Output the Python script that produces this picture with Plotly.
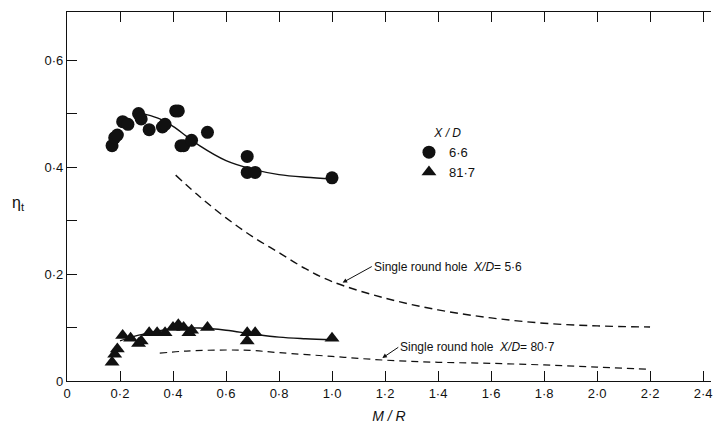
import plotly.graph_objects as go

# Measured effectiveness, X/D = 6.6 (circles)
md_66 = [0.17, 0.18, 0.19, 0.21, 0.23, 0.27, 0.28, 0.31, 0.36, 0.37, 0.41, 0.42,
         0.43, 0.44, 0.47, 0.53, 0.68, 0.68, 0.71, 1.00]
eta_66 = [0.44, 0.455, 0.46, 0.485, 0.48, 0.50, 0.49, 0.47, 0.475, 0.48, 0.505, 0.505,
          0.44, 0.44, 0.45, 0.465, 0.42, 0.39, 0.39, 0.38]

# Measured effectiveness, X/D = 81.7 (triangles)
md_817 = [0.17, 0.18, 0.19, 0.21, 0.24, 0.27, 0.28, 0.31, 0.34, 0.37, 0.40, 0.42,
          0.44, 0.46, 0.47, 0.53, 0.68, 0.71, 0.68, 1.00]
eta_817 = [0.035, 0.05, 0.06, 0.085, 0.08, 0.07, 0.075, 0.09, 0.09, 0.09, 0.10, 0.105,
           0.10, 0.09, 0.095, 0.10, 0.09, 0.09, 0.075, 0.08]

# Faired curves through the measurements
fit_x_66 = [0.25, 0.30, 0.35, 0.40, 0.45, 0.50, 0.60, 0.70, 0.80, 0.90, 1.00]
fit_y_66 = [0.503, 0.498, 0.49, 0.476, 0.458, 0.44, 0.412, 0.396, 0.386, 0.381, 0.378]
fit_x_817 = [0.20, 0.25, 0.30, 0.35, 0.40, 0.50, 0.60, 0.70, 0.80, 0.90, 1.00]
fit_y_817 = [0.075, 0.083, 0.089, 0.094, 0.098, 0.099, 0.095, 0.088, 0.082, 0.079, 0.077]

# Single round hole reference curves
hole_x_56 = [0.41, 0.5, 0.6, 0.7, 0.8, 0.9, 1.0, 1.2, 1.4, 1.6, 1.8, 2.0, 2.2]
hole_y_56 = [0.385, 0.345, 0.305, 0.27, 0.24, 0.21, 0.186, 0.155, 0.133, 0.118, 0.108, 0.103, 0.101]
hole_x_807 = [0.35, 0.45, 0.6, 0.7, 0.8, 1.0, 1.2, 1.4, 1.6, 1.8, 2.0, 2.2]
hole_y_807 = [0.052, 0.056, 0.058, 0.057, 0.053, 0.046, 0.039, 0.035, 0.033, 0.030, 0.026, 0.022]

x_ticks = [0, 0.2, 0.4, 0.6, 0.8, 1.0, 1.2, 1.4, 1.6, 1.8, 2.0, 2.2, 2.4]
x_labels = ["0", "0·2", "0·4", "0·6", "0·8", "1·0", "1·2", "1·4", "1·6", "1·8", "2·0", "2·2", "2·4"]
y_ticks = [0, 0.2, 0.4, 0.6]
y_labels = ["0", "0·2", "0·4", "0·6"]

FONT = "Liberation Sans, Arial, sans-serif"
INK = "#111111"

fig = go.Figure()

fig.add_trace(go.Scatter(x=fit_x_66, y=fit_y_66, mode="lines", line=dict(color=INK, width=1.4, shape="spline"),
                         showlegend=False, hoverinfo="skip"))
fig.add_trace(go.Scatter(x=fit_x_817, y=fit_y_817, mode="lines", line=dict(color=INK, width=1.4, shape="spline"),
                         showlegend=False, hoverinfo="skip"))
fig.add_trace(go.Scatter(x=hole_x_56, y=hole_y_56, mode="lines",
                         line=dict(color=INK, width=1.4, shape="spline", dash="8px,5px"),
                         showlegend=False, hoverinfo="skip"))
fig.add_trace(go.Scatter(x=hole_x_807, y=hole_y_807, mode="lines",
                         line=dict(color=INK, width=1.2, shape="spline", dash="7px,5px"),
                         showlegend=False, hoverinfo="skip"))

fig.add_trace(go.Scatter(x=md_66, y=eta_66, mode="markers", name="6·6",
                         marker=dict(symbol="circle", size=13, color=INK)))
fig.add_trace(go.Scatter(x=md_817, y=eta_817, mode="markers", name="81·7",
                         marker=dict(symbol="triangle-up", size=13, color=INK)))

# Labels for the reference curves; the leader arrow runs from the label to the curve
fig.add_annotation(x=1.04, y=0.184, ax=1.15, ay=0.214, axref="x", ayref="y",
                   text="Single round hole  <i>X/D</i>= 5·6", xanchor="left", yanchor="middle",
                   showarrow=True, arrowhead=2, arrowsize=0.9, arrowwidth=1, arrowcolor=INK,
                   font=dict(family=FONT, size=12, color=INK))
fig.add_annotation(x=1.19, y=0.043, ax=1.25, ay=0.063, axref="x", ayref="y",
                   text="Single round hole  <i>X/D</i>= 80·7", xanchor="left", yanchor="middle",
                   showarrow=True, arrowhead=2, arrowsize=0.9, arrowwidth=1, arrowcolor=INK,
                   font=dict(family=FONT, size=12, color=INK))

# Upright η_t label beside the vertical axis
fig.add_annotation(x=-0.076, y=0.482, xref="paper", yref="paper", text="η<sub>t</sub>", showarrow=False,
                   xanchor="center", yanchor="middle", font=dict(family=FONT, size=16, color=INK))

fig.update_layout(
    width=716, height=430,
    margin=dict(l=67, r=5, t=12, b=49),
    paper_bgcolor="white", plot_bgcolor="white",
    font=dict(family=FONT, size=13, color=INK),
    legend=dict(x=0.531, y=0.703, xanchor="left", yanchor="top",
                title=dict(text="       <i>X / D</i>", font=dict(size=12)),
                font=dict(size=13), bgcolor="rgba(0,0,0,0)", tracegroupgap=0),
    xaxis=dict(range=[0, 2.43], tickvals=x_ticks, ticktext=x_labels, ticks="inside", ticklen=10,
               tickcolor=INK, showline=True, linecolor=INK, linewidth=1.2, mirror="ticks",
               showgrid=False, zeroline=False, tickfont=dict(size=13),
               title=dict(text="<i>M / R</i>", font=dict(size=14), standoff=11)),
    yaxis=dict(range=[0, 0.69], tickvals=y_ticks, ticktext=y_labels, ticks="inside", ticklen=10,
               tickcolor=INK, showline=True, linecolor=INK, linewidth=1.2, mirror=False,
               showgrid=False, zeroline=False, tickfont=dict(size=13),
               minor=dict(tick0=0, dtick=0.1, ticks="inside", ticklen=10, tickcolor=INK, showgrid=False)),
)

fig.write_html("out.html")
